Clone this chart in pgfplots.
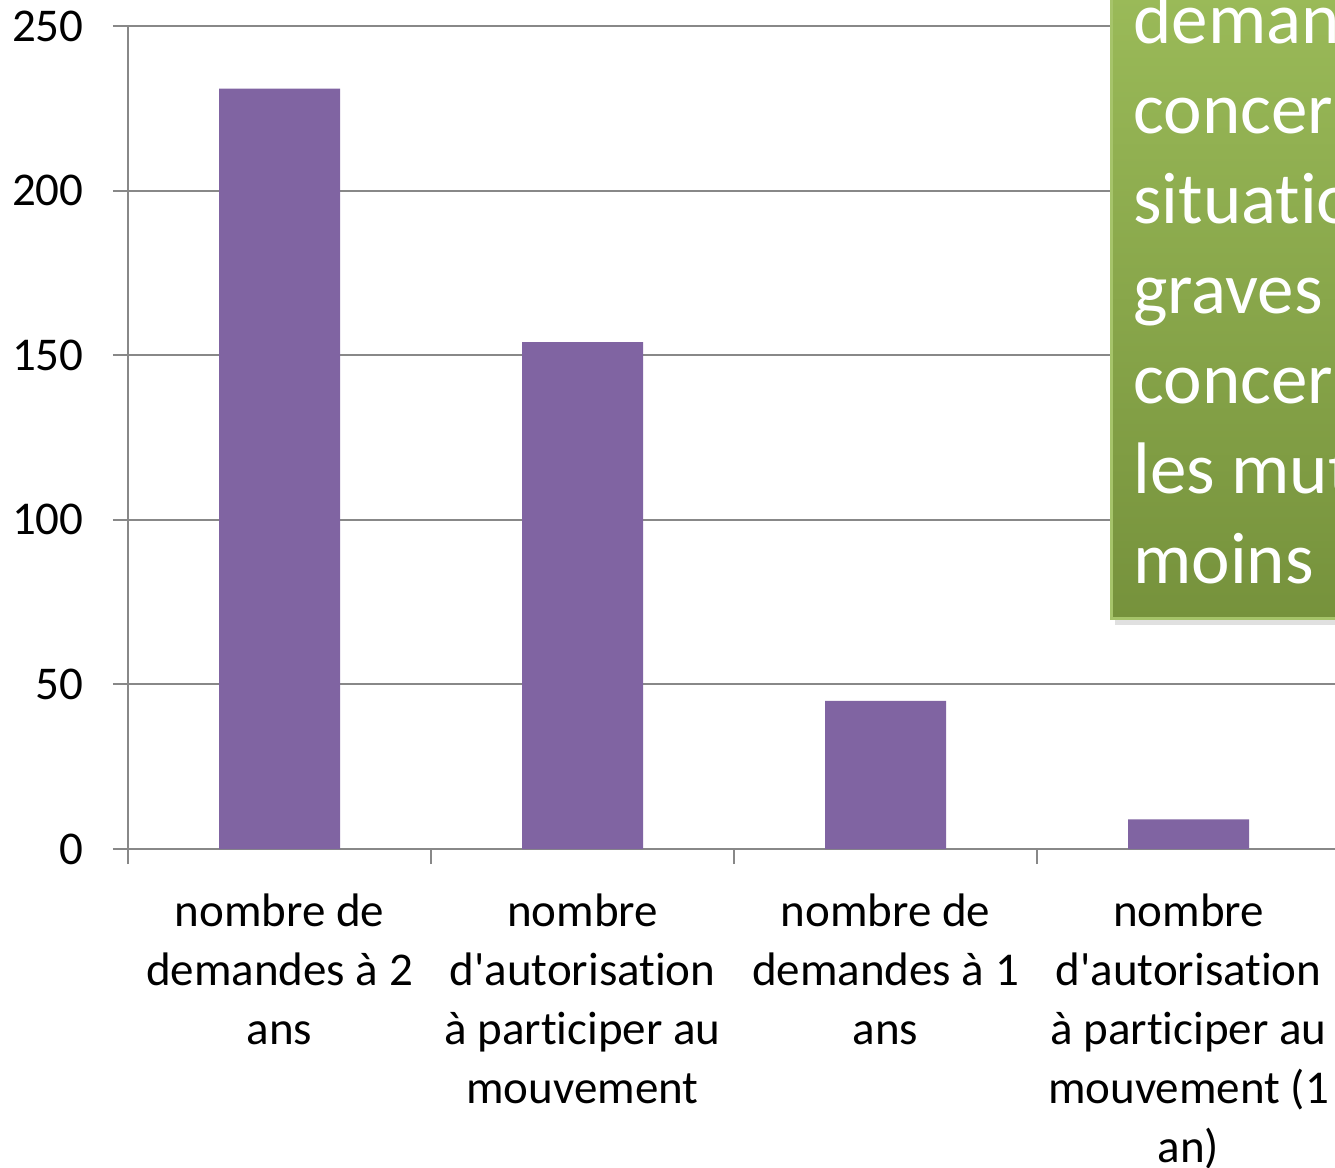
\documentclass[border=0pt]{standalone}
\usepackage{fontspec}
\setmainfont{Carlito}[Ligatures={TeXOff,CommonOff}]
\usepackage{pgfplots}
\pgfplotsset{compat=1.18}
\definecolor{barc}{HTML}{8064A2}
\definecolor{gridc}{HTML}{888888}
\definecolor{gtop}{HTML}{9BBB59}
\definecolor{gbot}{HTML}{76923C}
\definecolor{gedge}{HTML}{A6C46A}
\begin{document}
\begin{tikzpicture}[x=0.5pt,y=-0.5pt]
\clip (0,0) rectangle (1335,1168);
\fill[white] (0,0) rectangle (1335,1168);
\begin{axis}[
 at={(64pt,-424.5pt)}, anchor=south west,
 scale only axis, width=606pt, height=411.5pt,
 xmin=-0.5, xmax=3.5, ymin=0, ymax=250,
 axis x line*=bottom, axis y line*=left,
 axis line style={gridc, line width=1pt, -},
 ytick={0,50,100,150,200,250},
 ymajorgrids, grid style={gridc, line width=1pt},
 tick align=outside, major tick length=7.5pt,
 tick style={gridc, line width=1pt},
 xtick={-0.5,0.5,1.5,2.5,3.5}, xticklabels={},
 extra x ticks={0,1,2,3},
 extra x tick labels={{nombre de\\demandes à 2\\ans},{nombre\\d'autorisation\\à participer au\\mouvement},{nombre de\\demandes à 1\\ans},{nombre\\d'autorisation\\à participer au\\mouvement (1\\an)}},
 extra x tick style={major tick length=0pt, grid=none, xticklabel style={align=center, anchor=north, yshift=-19pt}},
 /pgf/number format/assume math mode=true,
 ticklabel style={font=\fontsize{23.5}{29.5}\selectfont, text=black},
 yticklabel style={anchor=east, inner sep=0pt, xshift=-14.5pt},
]
\addplot[ybar, bar width=60.5pt, fill=barc, draw=none] coordinates {(0,231) (1,154) (2,45) (3,9)};
\end{axis}
% text box (cropped at the right edge)
\fill[black, opacity=0.12] (1115,-20) rectangle (1345,625);
\shade[top color=gtop, bottom color=gbot] (1111,-20) rectangle (1345,618);
\draw[gedge, line width=1.5pt] (1111,-20) -- (1111,618) -- (1345,618);
\begin{scope}[every node/.style={anchor=base west, inner sep=0pt, text=white, font=\fontsize{36.5}{44}\selectfont}]
\node at (1133,43) {demandes};
\node at (1133,133) {concernent};
\node at (1133,223) {situations};
\node at (1133,313) {graves};
\node at (1133,403) {concernant};
\node at (1133,493) {les mutations};
\node at (1133,583) {moins};
\end{scope}
\end{tikzpicture}
\end{document}
